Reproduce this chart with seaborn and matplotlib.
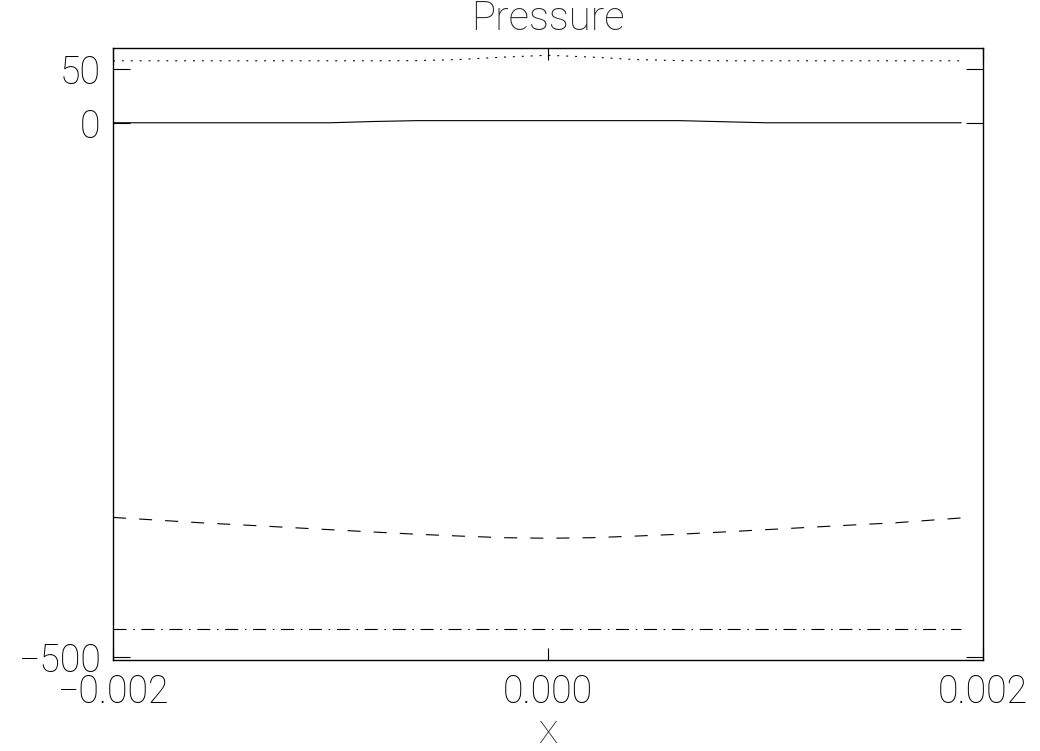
import matplotlib
matplotlib.use("Agg")
import matplotlib.pyplot as plt
import seaborn as sns
import numpy as np

# ---- data ----
x_vals = [-0.0020, -0.0018, -0.0016, -0.0014, -0.0012, -0.0010, -0.0008,
          -0.0006, -0.0004, -0.0002, 0.0000, 0.0002, 0.0004, 0.0006,
          0.0008, 0.0010, 0.0012, 0.0014, 0.0016, 0.0018, 0.0019]
p_dotted = [58.0, 58.0, 58.0, 58.0, 58.0, 58.0, 58.0,
            58.2, 59.3, 61.5, 63.2, 61.5, 59.2, 58.2,
            58.0, 58.0, 58.0, 58.0, 58.0, 58.0, 58.0]
p_solid = [0.0, 0.0, 0.0, 0.0, 0.0, 0.0, 1.2,
           2.0, 2.0, 2.0, 2.0, 2.0, 2.0, 2.0,
           1.0, 0.0, 0.0, 0.0, 0.0, 0.0, 0.0]
p_dashed = [-369.5, -372.0, -374.5, -376.6, -378.8, -381.0, -383.2,
            -385.3, -387.0, -388.5, -389.0, -388.5, -387.0, -385.3,
            -383.2, -381.0, -378.8, -376.6, -374.5, -371.5, -370.0]
p_dashdot = [-474.0] * len(x_vals)

x_ticks = [-0.002, 0.0, 0.002]
x_tick_labels = ["\u22120.002", "0.000", "0.002"]
y_ticks = [-500, 0, 50]
y_tick_labels = ["\u2212500", "0", "50"]
title = "Pressure"
x_label = "X"

# ---- style ----
sns.set_theme(style="ticks")
plt.rcParams["font.family"] = ["Roboto", "DejaVu Sans"]
plt.rcParams["font.weight"] = "light"
plt.rcParams["lines.scale_dashes"] = False

fig = plt.figure(figsize=(10.4, 7.51), dpi=100)
ax = fig.add_axes([113 / 1040, 1 - 660 / 751, 870 / 1040, 612 / 751])

series = [
    (p_dotted, (0, (1.4, 5.0))),
    (p_solid, "-"),
    (p_dashed, (0, (9.4, 9.4))),
    (p_dashdot, (0, (9.4, 4.8, 1.1, 4.8))),
]
for yv, ls in series:
    n_before = len(ax.lines)
    sns.lineplot(x=x_vals, y=yv, ax=ax, color="black", linewidth=0.8,
                 estimator=None, sort=False)
    for ln in ax.lines[n_before:]:
        ln.set_linestyle(ls)

ax.set_xlim(-0.002, 0.002)
ax.set_ylim(-503, 70)

ax.set_xticks(x_ticks)
ax.set_xticklabels(x_tick_labels)
ax.set_yticks(y_ticks)
ax.set_yticklabels(y_tick_labels)
ax.minorticks_off()

ax.tick_params(axis="x", direction="in", length=8.6, width=0.8, top=True,
               bottom=True, labelsize=27, pad=10, colors="black")
ax.tick_params(axis="y", direction="in", length=12, width=0.8, left=True,
               right=True, labelsize=27, pad=9, colors="black")

for sp in ax.spines.values():
    sp.set_visible(True)
    sp.set_color("black")
    sp.set_linewidth(1.0)

ax.set_title(title, fontsize=29, pad=13, fontweight="light")
ax.set_xlabel(x_label, fontsize=23, labelpad=6, fontweight="light")
ax.set_ylabel("")

fig.savefig("out.png", dpi=100, facecolor="white")
